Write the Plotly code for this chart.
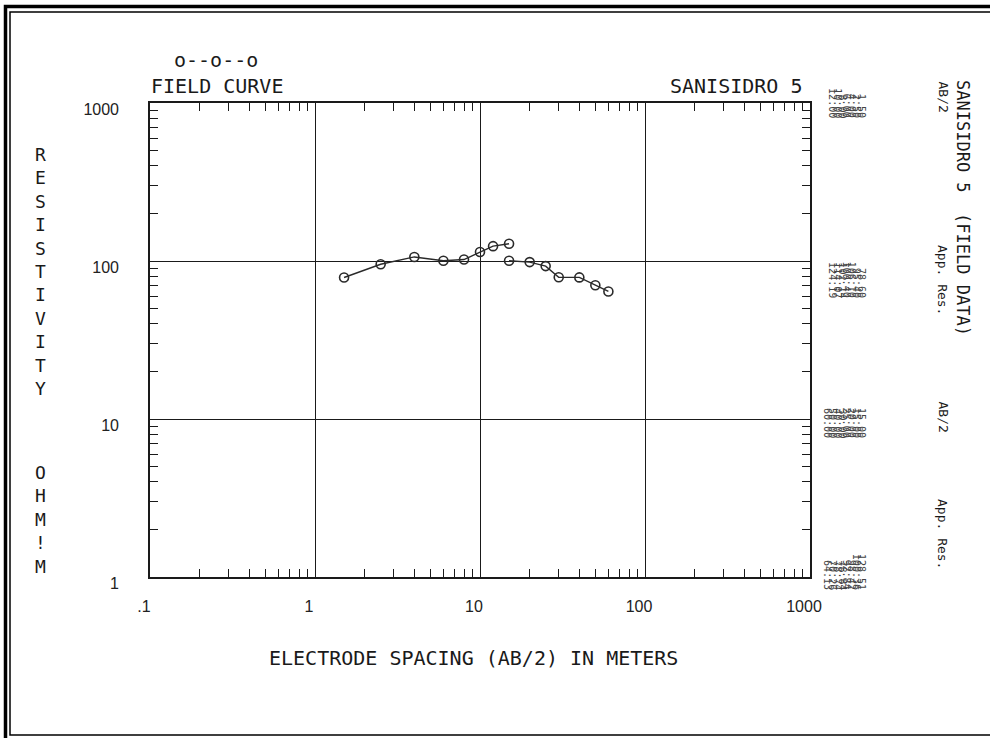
import plotly.graph_objects as go

# ---------------- data ----------------
ab2 = [1.5, 2.5, 4.0, 6.0, 8.0, 10.0, 12.0, 15.0,
       15.0, 20.0, 25.0, 30.0, 40.0, 50.0, 60.0]
app_res = [78.60, 95.40, 106.10, 100.40, 102.14, 114.07, 124.19, 128.51,
           100.36, 98.42, 92.84, 78.84, 78.74, 70.26, 64.13]
segment1_len = 8          # points in the first connected curve segment
table_block1_len = 7      # rows in the first printed data block

x_tick_vals = [0.1, 1, 10, 100, 1000]
x_tick_text = [".1", "1", "10", "100", "1000"]
y_tick_vals = [1, 10, 100, 1000]
y_tick_text = ["1", "10", "100", "1000"]

title_left = "FIELD CURVE"
title_right = "SANISIDRO 5"
legend_sample = "o--o--o"
x_title = "ELECTRODE SPACING (AB/2) IN METERS"
y_title_1 = "RESISTIVITY"
y_title_2 = "OHM!M"
side_title = "SANISIDRO 5  (FIELD DATA)"
col_head_1 = "AB/2"
col_head_2 = "App. Res."

# ---------------- layout geometry ----------------
W, H = 990, 738
ML, MR, MT, MB = 150, 180, 103, 161
PW, PH = W - ML - MR, H - MT - MB


def px(x):
    return (x - ML) / PW


def py(y):
    return (H - MB - y) / PH


MONO = "DejaVu Sans Mono"
INK = "#1a1a1a"

fig = go.Figure()
curve_style = dict(mode="lines+markers",
                   marker=dict(symbol="circle-open", size=9, color="#2a2a2a",
                               line=dict(width=1.6, color="#2a2a2a")),
                   line=dict(color="#2a2a2a", width=1.4),
                   hoverinfo="x+y")
fig.add_trace(go.Scatter(x=ab2[:segment1_len], y=app_res[:segment1_len], **curve_style))
fig.add_trace(go.Scatter(x=ab2[segment1_len:], y=app_res[segment1_len:], **curve_style))

minor_x = [m * 10 ** e for e in range(-1, 3) for m in range(2, 10)]
minor_y = [m * 10 ** e for e in range(0, 3) for m in range(2, 10)]

axis_common = dict(type="log", showgrid=True, gridcolor=INK, gridwidth=1.2,
                   showline=True, linecolor=INK, linewidth=1.6, mirror="ticks",
                   ticks="", zeroline=False, tickmode="array",
                   tickfont=dict(family="Liberation Sans", size=16, color="#222"))

fig.update_layout(
    width=W, height=H,
    margin=dict(l=ML, r=MR, t=MT, b=MB, autoexpand=False),
    paper_bgcolor="white", plot_bgcolor="white",
    showlegend=False,
    xaxis=dict(range=[-1, 3], tickvals=x_tick_vals, ticktext=x_tick_text,
               ticklabelstandoff=14, ticklabelshift=-6,
               minor=dict(tickmode="array", tickvals=minor_x, ticks="inside",
                          ticklen=8, tickwidth=1.2, tickcolor=INK, showgrid=False),
               **axis_common),
    yaxis=dict(range=[0, 3], tickvals=y_tick_vals, ticktext=y_tick_text,
               ticklabelstandoff=26, ticklabelshift=6,
               minor=dict(tickmode="array", tickvals=minor_y, ticks="inside",
                          ticklen=8, tickwidth=1.2, tickcolor=INK, showgrid=False),
               **axis_common),
)

ann = []


def text(t, x, y, size, xanchor="left", yanchor="middle", angle=0, color=INK, family=MONO):
    ann.append(dict(text=t, x=px(x), y=py(y), xref="paper", yref="paper",
                    xanchor=xanchor, yanchor=yanchor, textangle=angle,
                    showarrow=False, font=dict(family=family, size=size, color=color)))


# titles
text(legend_sample, 172, 60, 20)
text(title_left, 149, 86, 20)
text(title_right, 804, 86, 20, xanchor="right")
text(x_title, 473, 658, 20, xanchor="center")
text("<br>".join(y_title_1), 40, 271, 18, xanchor="center")
text("<br>".join(y_title_2), 40, 519, 18, xanchor="center")

# side data listing (rotated)
GREY = "#444"
text(side_title, 963, 78, 17, xanchor="center", yanchor="top", angle=90)
blocks = [(0, table_block1_len, 80, 243, 120, 300),
          (table_block1_len, len(ab2), 400, 497, 440, 592)]
for start, end, h1_top, h2_top, v1_bot, v2_bot in blocks:
    text(col_head_1, 943, h1_top, 13, xanchor="center", yanchor="top", angle=90)
    text(col_head_2, 943, h2_top, 13, xanchor="center", yanchor="top", angle=90)
    for k, i in enumerate(range(start, end)):
        cx = 862 - 4.85 * k
        text(f"{ab2[i]:.2f}", cx, v1_bot, 10, xanchor="center", yanchor="bottom",
             angle=90, color=GREY)
        text(f"{app_res[i]:.2f}", cx, v2_bot, 10, xanchor="center", yanchor="bottom",
             angle=90, color=GREY)

fig.update_layout(annotations=ann)

# double frame around the page
fig.add_shape(type="rect", xref="paper", yref="paper",
              x0=px(5.5), x1=px(1010), y0=py(760), y1=py(6.5),
              line=dict(color="black", width=3.5), fillcolor="rgba(0,0,0,0)", layer="above")
fig.add_shape(type="rect", xref="paper", yref="paper",
              x0=px(10), x1=px(1010), y0=py(735), y1=py(12),
              line=dict(color="black", width=1.5), fillcolor="rgba(0,0,0,0)", layer="above")

fig.write_html("out.html",
               config={"displayModeBar": False},
               post_script="document.body.style.margin='0';document.body.style.overflow='hidden';")
